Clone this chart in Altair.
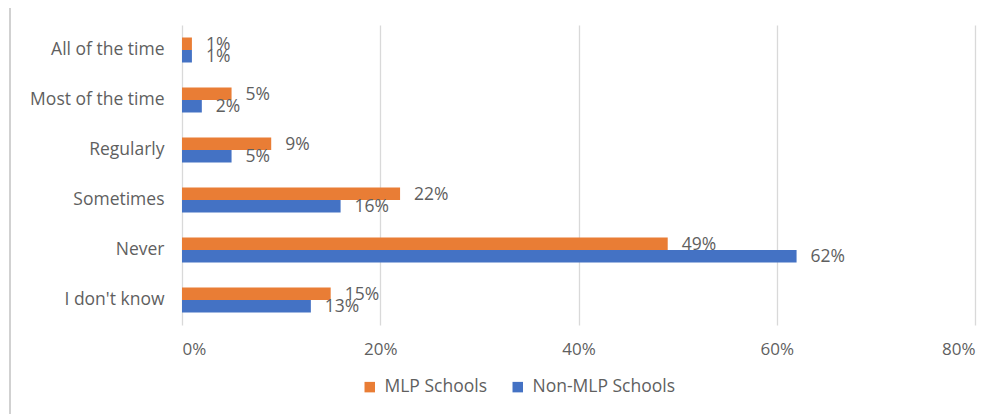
import altair as alt
import pandas as pd

categories = ["All of the time", "Most of the time", "Regularly", "Sometimes", "Never", "I don't know"]
series = ["MLP Schools", "Non-MLP Schools"]
mlp = [1, 5, 9, 22, 49, 15]
non_mlp = [1, 2, 5, 16, 62, 13]
x_ticks = [0, 20, 40, 60, 80]

rows = []
for c, a, b in zip(categories, mlp, non_mlp):
    rows.append({"cat": c, "series": series[0], "val": a, "lab": f"{a}%"})
    rows.append({"cat": c, "series": series[1], "val": b, "lab": f"{b}%"})
df = pd.DataFrame(rows)

FONT = "Open Sans"
GRAY = "#5f5f5f"

y_enc = alt.Y("cat:N", sort=categories, title=None,
              scale=alt.Scale(paddingInner=0.5, paddingOuter=0.25),
              axis=alt.Axis(domain=False, ticks=False, labelFontSize=17.5, labelColor=GRAY,
                            labelFont=FONT, labelPadding=18, grid=False))
x_enc = alt.X("val:Q", title=None,
              scale=alt.Scale(domain=[0, 80], nice=False),
              axis=alt.Axis(values=x_ticks, labelExpr="datum.value + '%'", domain=False, ticks=False,
                            labelFontSize=17, labelColor=GRAY, labelFont=FONT, labelPadding=16,
                            gridColor="#d9d9d9", gridWidth=1.3))
yoff = alt.YOffset("series:N", sort=series)

bars = alt.Chart(df).mark_bar().encode(
    y=y_enc, x=x_enc, yOffset=yoff,
    color=alt.Color("series:N", sort=series,
                    scale=alt.Scale(domain=series, range=["#E97D35", "#4472C4"]),
                    legend=alt.Legend(title=None, orient="none", direction="horizontal",
                                      legendX=179, legendY=353, symbolType="square",
                                      symbolSize=110, symbolStrokeWidth=0, labelFontSize=17.5,
                                      labelColor=GRAY, labelFont=FONT, columnPadding=22,
                                      symbolOffset=0, labelOffset=6)),
)

labels = alt.Chart(df).mark_text(align="left", baseline="middle", dx=14, dy=1, fontSize=17.5,
                                 color=GRAY, font=FONT).encode(
    y=alt.Y("cat:N", sort=categories), x="val:Q", yOffset=yoff, text="lab:N")

border = alt.Chart(df).mark_rule(color="#d0d0d0", strokeWidth=1.5).encode(
    x=alt.value(-172), y=alt.value(-17), y2=alt.value(400))

chart = alt.layer(border, bars, labels).properties(
    width=793, height=300,
    autosize=alt.AutoSizeParams(type="none"),
    padding={"left": 182, "top": 25, "right": 30, "bottom": 89},
).configure_view(stroke=None)

chart.save("out.html", embed_options={"renderer": "svg", "actions": False})
